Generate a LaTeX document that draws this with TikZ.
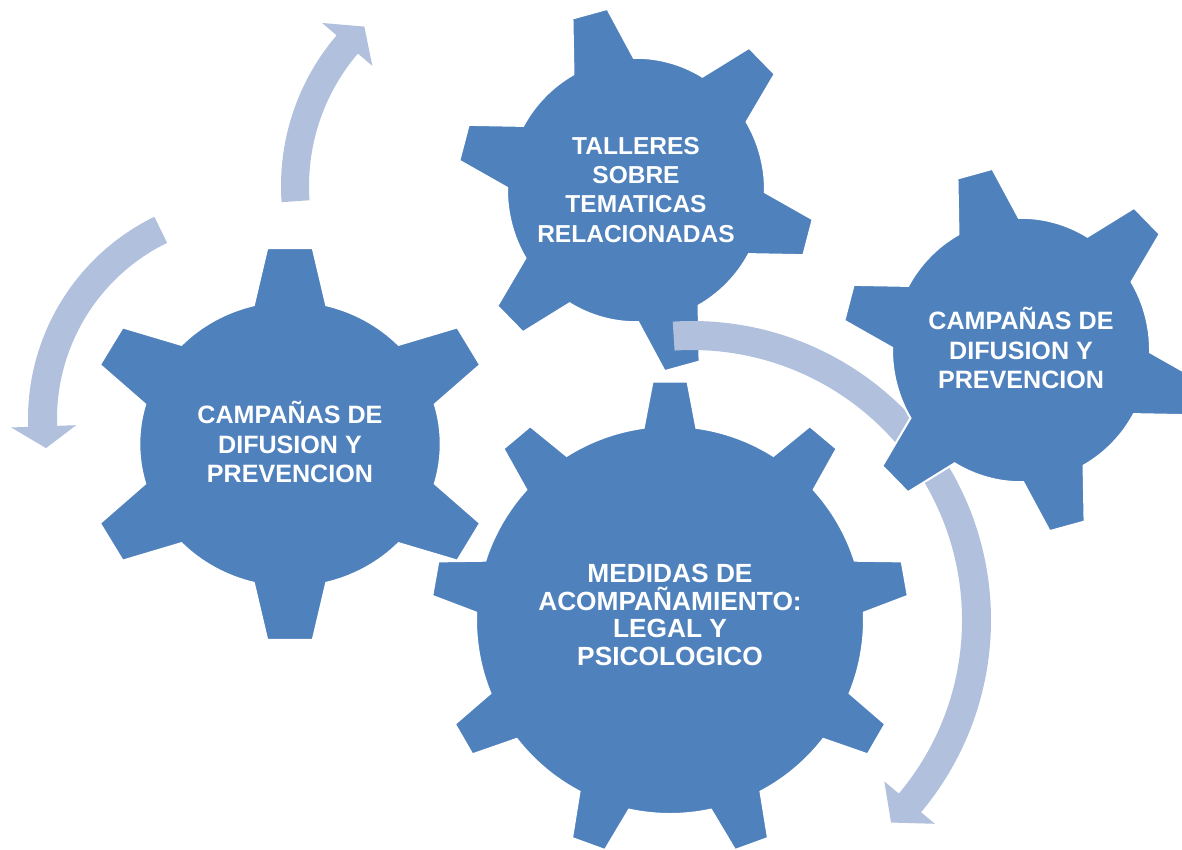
\documentclass[tikz,border=0pt]{standalone}
\usepackage{fontspec}
\setmainfont{Liberation Sans}
\definecolor{gearblue}{RGB}{79,129,189}
\definecolor{arrowblue}{RGB}{176,192,221}
\tikzset{
  gear/.style={fill=gearblue,draw=white,line width=1pt},
  turn/.style={fill=arrowblue},
  geartext/.style={text=white,align=center,inner sep=0pt,font=\bfseries\fontsize{12.3}{14.6}\selectfont},
  bigtext/.style={geartext,font=\bfseries\fontsize{12.6}{14.7}\selectfont}
}

\begin{document}
\begin{tikzpicture}[x=0.5bp,y=0.5bp]
\useasboundingbox (0,0) rectangle (1182,-849);

% centres of gears and arrows
\coordinate (cl) at (290,-444);
\coordinate (ct) at (636,-190);
\coordinate (cr) at (1021,-350);
\coordinate (cb) at (670,-620);
\coordinate (a1) at (513,-186);
\coordinate (a2) at (253,-419);
\coordinate (a3) at (692,-620);

% arrows round the left gear
\fill[turn,shift={(a1)}] (184:232) arc[start angle=184,end angle=139.5,radius=232] -- (139.5:251) -- (133:218) -- (139.5:185) -- (139.5:204) arc[start angle=139.5,end angle=184,radius=204] -- cycle;
\fill[turn,shift={(a2)}] (116:225) arc[start angle=116,end angle=182,radius=225] -- (182:242) -- (188:209) -- (182:177) -- (182:196) arc[start angle=182,end angle=116,radius=196] -- cycle;

% top gear
\filldraw[gear,shift={(ct)},yscale=1.025] ({105-5.8}:179) \foreach \k in {0,...,5}{ -- ({105+60*\k+5.8}:179) -- ({105+60*\k+14}:129) arc[start angle={105+60*\k+14},end angle={105+60*\k+46},radius=129] -- ({105+60*\k+54.2}:179)} -- cycle;

% long arrow
\fill[turn,shift={(a3)}] (93.7:299) arc[start angle=93.7,end angle=-40,radius=299] -- (-40:317) -- (-45.5:284) -- (-40:251) -- (-40:270) arc[start angle=-40,end angle=93.7,radius=270] -- cycle;

% right gear
\filldraw[gear,shift={(cr)},yscale=1.025] ({105-5.8}:179) \foreach \k in {0,...,5}{ -- ({105+60*\k+5.8}:179) -- ({105+60*\k+14}:129) arc[start angle={105+60*\k+14},end angle={105+60*\k+46},radius=129] -- ({105+60*\k+54.2}:179)} -- cycle;

% big gear
\filldraw[gear,shift={(cb)}] ({90-4.2}:239) \foreach \k in {0,...,8}{ -- ({90+40*\k+4.2}:239) -- ({90+40*\k+7.8}:194) arc[start angle={90+40*\k+7.8},end angle={90+40*\k+32.2},radius=194] -- ({90+40*\k+35.8}:239)} -- cycle;

% left gear
\filldraw[gear,shift={(cl)},xscale=1.054] ({90-6.3}:197) \foreach \k in {0,...,5}{ -- ({90+60*\k+6.3}:197) -- ({90+60*\k+13.9}:143) arc[start angle={90+60*\k+13.9},end angle={90+60*\k+46.1},radius=143] -- ({90+60*\k+53.7}:197)} -- cycle;

% texts
\node[bigtext] (tl) at ([yshift=1bp]cl) {CAMPAÑAS DE\\DIFUSION Y\\PREVENCION};
\node[geartext] (tt) at (ct) {TALLERES\\SOBRE\\TEMATICAS\\RELACIONADAS};
\node[bigtext] (tr) at ([yshift=1bp]cr) {CAMPAÑAS DE\\DIFUSION Y\\PREVENCION};
\node[geartext,font=\bfseries\fontsize{13.2}{13.8}\selectfont] (tb) at ([yshift=2.5bp]cb) {MEDIDAS DE\\ACOMPAÑAMIENTO:\\LEGAL Y\\PSICOLOGICO};
\end{tikzpicture}
\end{document}
